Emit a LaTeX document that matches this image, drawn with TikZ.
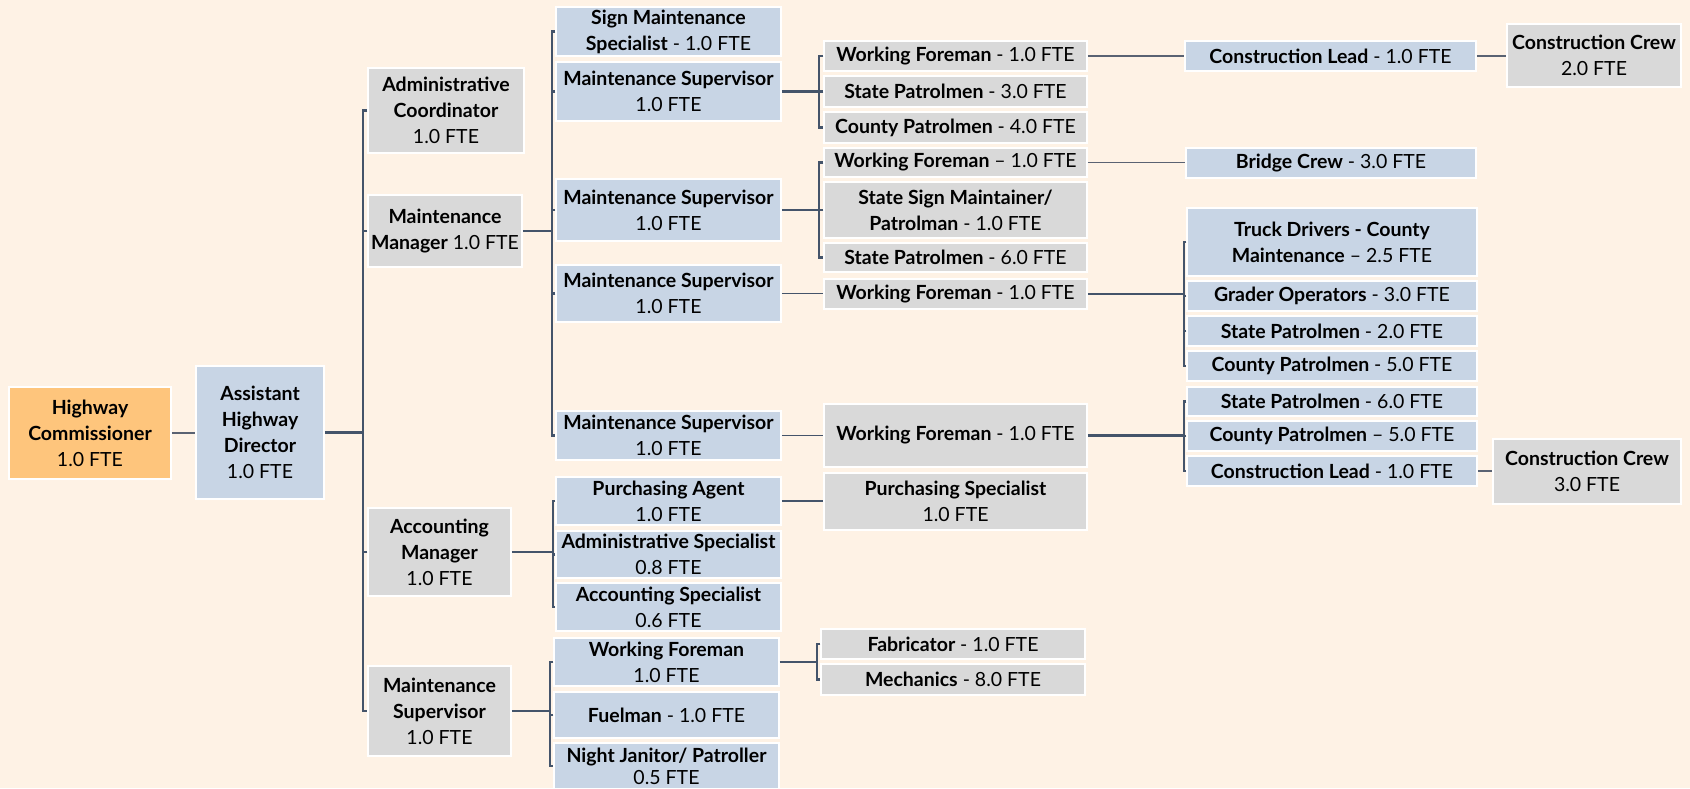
\documentclass[tikz,border=0pt]{standalone}
\usepackage{fontspec}
\setmainfont{Lato}
\definecolor{bgc}{HTML}{FEF2E5}
\definecolor{bluef}{HTML}{C8D5E5}
\definecolor{greyf}{HTML}{D9D9D9}
\definecolor{orangef}{HTML}{FEC57C}
\definecolor{linec}{HTML}{44546A}
\definecolor{thinc}{HTML}{5A6272}
\newcommand\T[1]{\textbf{#1}}
\newcommand\obox[7]{\node[#2, minimum width={(#5-#3)*1pt}, minimum height={(#6-#4)*1pt}] (#1) at ({(#3+#5)/2},{(#4+#6)/2}) {#7};}
\tikzset{
  basebox/.style={rectangle, draw=white, line width=1.5pt, inner sep=0pt, align=center,
    font=\fontsize{19.5}{26}\selectfont, text=black},
  bluebox/.style={basebox, fill=bluef},
  greybox/.style={basebox, fill=greyf},
  orangebox/.style={basebox, fill=orangef},
  link/.style={draw=linec, line width=2.2pt},
  midlink/.style={draw=linec, line width=1.7pt},
  thinlink/.style={draw=thinc, line width=1.3pt},
}
\begin{document}
\begin{tikzpicture}[x=1pt,y=-1pt]
\fill[bgc] (0,0) rectangle (1690,788);
\useasboundingbox (0,0) rectangle (1690,788);
% level 0
\obox{hc}{orangebox}{9}{387}{171}{479}{\T{Highway}\\\T{Commissioner}\\1.0 FTE}
\obox{ad}{bluebox}{196}{366}{324}{499}{\T{Assistant}\\\T{Highway}\\\T{Director}\\1.0 FTE}
% level 1
\obox{ac}{greybox}{368}{68}{524}{153}{\T{Administrative}\\\T{Coordinator}\\1.0 FTE}
\obox{mm}{greybox}{368}{195}{522}{267}{\T{Maintenance}\\\T{Manager} 1.0 FTE}
\obox{am}{greybox}{368}{508}{511}{596}{\T{Accounting}\\\T{Manager}\\1.0 FTE}
\obox{msup}{greybox}{368}{666}{511}{756}{\T{Maintenance}\\\T{Supervisor}\\1.0 FTE}
% level 2
\obox{sms}{bluebox}{556}{7}{781}{56}{\T{Sign Maintenance}\\\T{Specialist} - 1.0 FTE}
\obox{ms1}{bluebox}{556}{62}{781}{121}{\T{Maintenance Supervisor}\\1.0 FTE}
\obox{ms2}{bluebox}{556}{179}{781}{241}{\T{Maintenance Supervisor}\\1.0 FTE}
\obox{ms3}{bluebox}{556}{265}{781}{322}{\T{Maintenance Supervisor}\\1.0 FTE}
\obox{ms4}{bluebox}{556}{411}{781}{460}{\T{Maintenance Supervisor}\\1.0 FTE}
\obox{pa}{bluebox}{556}{477}{781}{525}{\T{Purchasing Agent}\\1.0 FTE}
\obox{as}{bluebox}{556}{531}{781}{578}{\T{Administrative Specialist}\\0.8 FTE}
\obox{acs}{bluebox}{556}{583}{781}{631}{\T{Accounting Specialist}\\0.6 FTE}
\obox{wf5}{bluebox}{554}{638}{779}{686}{\T{Working Foreman}\\1.0 FTE}
\obox{fu}{bluebox}{554}{692}{779}{738}{\T{Fuelman} - 1.0 FTE}
\obox{nj}{bluebox,font=\fontsize{19.5}{22}\selectfont}{554}{743}{779}{789}{\T{Night Janitor/ Patroller}\\0.5 FTE}
% level 3
\obox{wf1}{greybox}{824}{41}{1087}{71}{\T{Working Foreman} - 1.0 FTE}
\obox{sp3}{greybox}{824}{76}{1087}{107}{\T{State Patrolmen} - 3.0 FTE}
\obox{cp4}{greybox}{824}{112}{1087}{143}{\T{County Patrolmen} - 4.0 FTE}
\obox{wf2}{greybox}{824}{148}{1087}{177}{\T{Working Foreman} – 1.0 FTE}
\obox{ssm}{greybox}{824}{182}{1087}{238}{\T{State Sign Maintainer/}\\\T{Patrolman} - 1.0 FTE}
\obox{sp6}{greybox}{824}{243}{1087}{272}{\T{State Patrolmen} - 6.0 FTE}
\obox{wf3}{greybox}{824}{279}{1087}{309}{\T{Working Foreman} - 1.0 FTE}
\obox{wf4}{greybox}{824}{404}{1087}{467}{\T{Working Foreman} - 1.0 FTE}
\obox{ps}{greybox}{824}{473}{1087}{530}{\T{Purchasing Specialist}\\1.0 FTE}
\obox{fab}{greybox}{821}{629}{1085}{659}{\T{Fabricator} - 1.0 FTE}
\obox{mech}{greybox}{821}{664}{1085}{695}{\T{Mechanics} - 8.0 FTE}
% level 4
\obox{cl1}{bluebox}{1185}{41}{1476}{71}{\T{Construction Lead} - 1.0 FTE}
\obox{bc}{bluebox}{1186}{148}{1476}{178}{\T{Bridge Crew} - 3.0 FTE}
\obox{td}{bluebox}{1187}{208}{1477}{276}{\T{Truck Drivers - County}\\\T{Maintenance} – 2.5 FTE}
\obox{go}{bluebox}{1187}{281}{1477}{311}{\T{Grader Operators} - 3.0 FTE}
\obox{sp2}{bluebox}{1187}{316}{1477}{346}{\T{State Patrolmen} - 2.0 FTE}
\obox{cp5}{bluebox}{1187}{351}{1477}{381}{\T{County Patrolmen} - 5.0 FTE}
\obox{sp6b}{bluebox}{1187}{387}{1477}{416}{\T{State Patrolmen} - 6.0 FTE}
\obox{cp5b}{bluebox}{1187}{421}{1477}{451}{\T{County Patrolmen} – 5.0 FTE}
\obox{cl2}{bluebox}{1187}{456}{1477}{486}{\T{Construction Lead} - 1.0 FTE}
% level 5
\obox{cc1}{greybox}{1507}{24}{1681}{87}{\T{Construction Crew}\\2.0 FTE}
\obox{cc2}{greybox}{1493}{439}{1681}{504}{\T{Construction Crew}\\3.0 FTE}
% connectors
\draw[thinlink] (hc.east) -- (hc.east -| ad.west);
% ad -> level1
\draw[link] (ad.east) -- ([xshift=-4.5pt]ad.east -| ac.west);
\draw[link] (ac.west) -- ++(-4.5,0) |- (msup.west);
\draw[link] (mm.west) -- ++(-4.5,0);
\draw[link] (am.west) -- ++(-4.5,0);
% mm -> level2
\draw[link] (mm.east) -- ([xshift=-3pt]mm.east -| sms.west);
\draw[link] (sms.west) -- ++(-3,0) |- (ms4.west);
\draw[link] (ms1.west) -- ++(-3,0);
\draw[link] (ms2.west) -- ++(-3,0);
\draw[link] (ms3.west) -- ++(-3,0);
% ms1 -> children
\draw[link] (ms1.east) -- ([xshift=-4pt]ms1.east -| wf1.west);
\draw[link] (wf1.west) -- ++(-4,0) |- (cp4.west);
\draw[link] (sp3.west) -- ++(-4,0);
% ms2 -> children
\draw[link] (ms2.east) -- ([xshift=-4pt]ms2.east -| wf2.west);
\draw[link] (wf2.west) -- ++(-4,0) |- (sp6.west);
\draw[link] (ssm.west) -- ++(-4,0);
% single links
\draw[midlink] (ms3.east) -- (ms3.east -| wf3.west);
\draw[midlink] (ms4.east) -- (ms4.east -| wf4.west);
\draw[midlink] (pa.east) -- (pa.east -| ps.west);
\draw[thinlink] (wf1.east) -- (wf1.east -| cl1.west);
\draw[thinlink] (cl1.east) -- (cl1.east -| cc1.west);
\draw[thinlink] (wf2.east) -- (wf2.east -| bc.west);
\draw[thinlink] (cl2.east) -- (cl2.east -| cc2.west);
% am -> children
\draw[link] (am.east) -- ([xshift=-2.5pt]am.east -| pa.west);
\draw[link] (pa.west) -- ++(-2.5,0) |- (acs.west);
\draw[link] (as.west) -- ++(-2.5,0);
% msup -> children
\draw[link] (msup.east) -- ([xshift=-3pt]msup.east -| wf5.west);
\draw[link] (wf5.west) -- ++(-3,0) |- (nj.west);
\draw[link] (fu.west) -- ++(-3,0);
% wf5 -> children
\draw[link] (wf5.east) -- ([xshift=-3pt]wf5.east -| fab.west);
\draw[link] (fab.west) -- ++(-3,0) |- (mech.west);
% wf3 -> children
\draw[link] (wf3.east) -- ([xshift=-2.5pt]wf3.east -| td.west);
\draw[link] (td.west) -- ++(-2.5,0) |- (cp5.west);
\draw[link] (go.west) -- ++(-2.5,0);
\draw[link] (sp2.west) -- ++(-2.5,0);
% wf4 -> children
\draw[link] (wf4.east) -- ([xshift=-2.5pt]wf4.east -| sp6b.west);
\draw[link] (sp6b.west) -- ++(-2.5,0) |- (cl2.west);
\draw[link] (cp5b.west) -- ++(-2.5,0);
\end{tikzpicture}
\end{document}
